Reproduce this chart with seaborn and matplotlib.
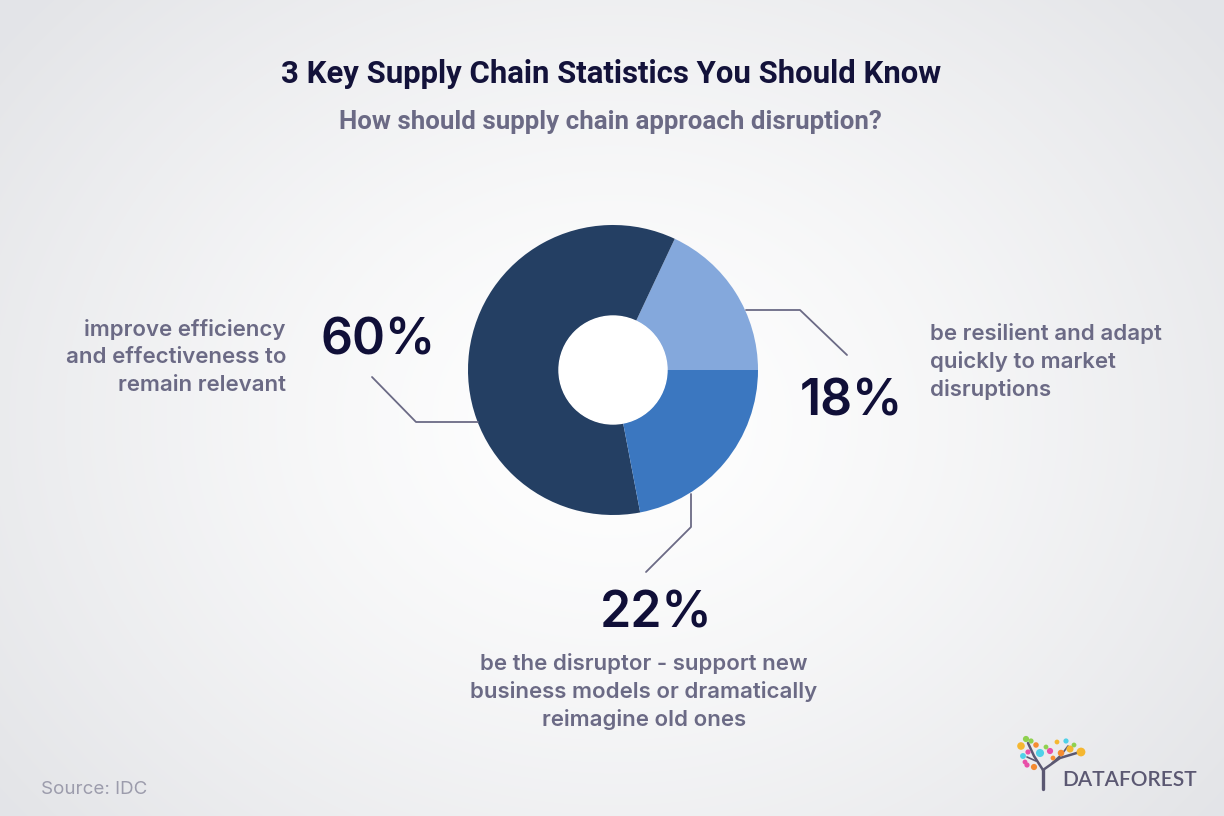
"""donut chart - supply chain statistics"""
import numpy as np
import matplotlib.pyplot as plt
import seaborn as sns
from matplotlib.patches import Circle

# data
labels = ["be resilient and adapt quickly to market disruptions",
          "improve efficiency and effectiveness to remain relevant",
          "be the disruptor - support new business models or dramatically reimagine old ones"]
values = [18, 60, 22]
colors = ["#84A8DC", "#243F63", "#3B77C0"]

title = "3 Key Supply Chain Statistics You Should Know"
subtitle = "How should supply chain approach disruption?"
left_lines = ["improve efficiency", "and effectiveness to", "remain relevant"]
right_lines = ["be resilient and adapt", "quickly to market", "disruptions"]
bottom_lines = ["be the disruptor - support new", "business models or dramatically", "reimagine old ones"]
source = "Source: IDC"

sns.set_theme(style="white")
plt.rcParams['font.family'] = ['Inter', 'DejaVu Sans']

W, H = 1224, 816
fig = plt.figure(figsize=(W / 100, H / 100), dpi=100)
ax = fig.add_axes([0, 0, 1, 1])

# radial background gradient
yy, xx = np.mgrid[0:H, 0:W]
d = np.sqrt(((xx - 612) / 760.0) ** 2 + ((yy - 420) / 620.0) ** 2)
d = np.clip(d, 0, 1)
lo = np.array([1.0, 1.0, 1.0])
hi = np.array([0.894, 0.898, 0.910])
bg = lo[None, None, :] + (hi - lo)[None, None, :] * (d ** 1.3)[..., None]
ax.imshow(bg, extent=(0, W, H, 0), zorder=0)

# donut
cx, cy, r_out, r_in = 613, 370, 145, 54
ax.pie(values, colors=colors, startangle=0, counterclock=False,
       radius=r_out, center=(cx, cy),
       wedgeprops=dict(width=r_out - r_in, linewidth=0))
ax.add_patch(Circle((cx, cy), r_in, color="white", zorder=5))

ax.set_xlim(0, W)
ax.set_ylim(H, 0)
ax.set_aspect("auto")
ax.axis("off")

line_c = "#6B6A85"
txt_c = "#6B6A85"
num_c = "#100F38"

# leader lines
ax.plot([372, 416, 478], [377, 422, 422], color=line_c, lw=1.3, zorder=6)
ax.plot([746, 800, 847], [310, 310, 355], color=line_c, lw=1.3, zorder=6)
ax.plot([691, 691, 646], [494, 527, 572], color=line_c, lw=1.3, zorder=6)

# title / subtitle
ax.text(611, 74, title, ha="center", va="center", fontsize=22.4,
        fontweight="bold", color="#13123A", family=["Roboto", "DejaVu Sans"])
ax.text(610, 122, subtitle, ha="center", va="center", fontsize=18.6,
        fontweight="semibold", color=txt_c, family=["Roboto", "DejaVu Sans"])

# percentages
ax.text(378, 341, f"{values[1]}%", ha="center", va="center", fontsize=36,
        fontweight="semibold", color=num_c)
ax.text(851, 402, f"{values[0]}%", ha="center", va="center", fontsize=36,
        fontweight="semibold", color=num_c)
ax.text(656, 614, f"{values[2]}%", ha="center", va="center", fontsize=36,
        fontweight="semibold", color=num_c)

# descriptions
for i, s in enumerate(left_lines):
    ax.text(286, 329 + 28 * i, s, ha="right", va="center", fontsize=16,
            fontweight="semibold", color=txt_c)
for i, s in enumerate(right_lines):
    ax.text(930, 333 + 28 * i, s, ha="left", va="center", fontsize=16,
            fontweight="semibold", color=txt_c)
for i, s in enumerate(bottom_lines):
    ax.text(644, 664 + 28 * i, s, ha="center", va="center", fontsize=16,
            fontweight="semibold", color=txt_c)

ax.text(41, 790, source, ha="left", va="center", fontsize=13.5,
        color="#9C9CAC")

# logo
ax.text(1062, 780, "DATAFOREST", ha="left", va="center", fontsize=15,
        fontweight="semibold", color="#5B5872", family=["Lato", "DejaVu Sans"])
tree = "#5B5872"
ax.plot([1043, 1043], [789, 770], color=tree, lw=2.4, zorder=6)
ax.plot([1043, 1034, 1028], [770, 756, 743], color=tree, lw=1.8, zorder=6)
ax.plot([1043, 1060, 1080], [770, 758, 752], color=tree, lw=1.8, zorder=6)
ax.plot([1036, 1027], [761, 757], color=tree, lw=1.2, zorder=6)
ax.plot([1052, 1062, 1068], [763, 754, 746], color=tree, lw=1.2, zorder=6)
dx = [1021, 1026, 1031, 1023, 1028, 1036, 1040, 1046, 1050, 1057, 1061, 1066, 1070, 1074, 1081, 1027, 1034, 1025, 1053]
dy = [746, 739, 741, 756, 752, 745, 753, 747, 751, 742, 753, 741, 749, 745, 752, 765, 767, 762, 758]
dc = ["#F5B731", "#8FD14F", "#8FD14F", "#4FD1E8", "#E84FA8", "#F58C31", "#4FD1E8", "#8FD14F", "#E84FA8",
      "#F5B731", "#F58C31", "#4FD1E8", "#F5B731", "#8FD14F", "#F5B731", "#E84FA8", "#F58C31", "#E84FA8", "#F58C31"]
ds = [30, 20, 14, 18, 14, 16, 34, 12, 20, 12, 22, 14, 26, 12, 40, 14, 20, 12, 12]
ax.scatter(dx, dy, s=ds, c=dc, zorder=7, linewidths=0)

fig.savefig("out.png", dpi=100)
